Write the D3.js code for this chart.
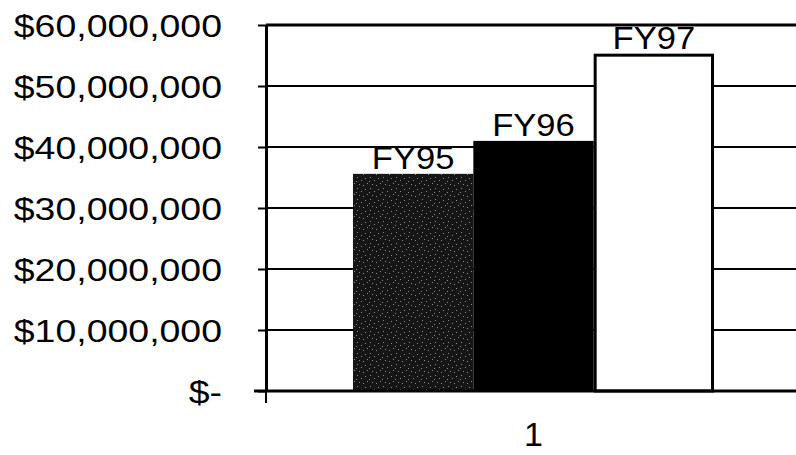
<!DOCTYPE html>
<html>
<head>
<meta charset="utf-8">
<script src="https://cdn.jsdelivr.net/npm/d3@7"></script>
<style>
  html, body { margin: 0; padding: 0; background: #fff; }
  svg { display: block; }
  text { font-family: "Liberation Sans", Arial, sans-serif; fill: #000; }
</style>
</head>
<body>
<svg id="chart" width="796" height="455"></svg>
<script>
// ---- data ----
const categories = ["1"];
const series = ["FY95", "FY96", "FY97"];
const values = [35600000, 41000000, 55300000];
const yTicks = [0, 10000000, 20000000, 30000000, 40000000, 50000000, 60000000];

// ---- layout ----
const W = 796, H = 455;
const margin = { left: 266, right: -5, top: 25, bottom: 64 };
const svg = d3.select("#chart");

const x = d3.scaleBand()
  .domain(categories)
  .range([margin.left, W - margin.right])
  .paddingInner(0)
  .paddingOuter(0.241);

const xs = d3.scaleBand()
  .domain(series)
  .range([0, x.bandwidth()])
  .padding(0);

const y = d3.scaleLinear()
  .domain([0, 60000000])
  .range([H - margin.bottom, margin.top]);

// pattern for FY95 (dark speckled fill)
const defs = svg.append("defs");
const pat = defs.append("pattern")
  .attr("id", "speckle")
  .attr("patternUnits", "userSpaceOnUse")
  .attr("width", 13).attr("height", 11);
pat.append("rect").attr("width", 13).attr("height", 11).attr("fill", "#161616");
[[1,2],[6,1],[10,4],[3,7],[8,8],[12,9],[5,5]].forEach(([px, py]) => {
  pat.append("rect").attr("x", px).attr("y", py).attr("width", 1).attr("height", 1).attr("fill", "#8a8a8a");
});

// gridlines
svg.append("g")
  .selectAll("line")
  .data(yTicks.filter(d => d > 0))
  .join("line")
  .attr("x1", margin.left).attr("x2", W)
  .attr("y1", d => y(d)).attr("y2", d => y(d))
  .attr("stroke", "#000")
  .attr("stroke-width", d => d === 60000000 ? 3 : 2);

// bars
const fills = { FY95: "url(#speckle)", FY96: "#000", FY97: "#fff" };
const g = svg.append("g");
g.selectAll("rect")
  .data(series.map((s, i) => ({ s, v: values[i] })))
  .join("rect")
  .attr("x", d => x(categories[0]) + xs(d.s) + (d.s === "FY97" ? 1.5 : 0))
  .attr("y", d => y(d.v) + (d.s === "FY97" ? 1.5 : 0))
  .attr("width", d => xs.bandwidth() - (d.s === "FY97" ? 3 : 0))
  .attr("height", d => y(0) - y(d.v) - (d.s === "FY97" ? 1.5 : 0))
  .attr("fill", d => fills[d.s])
  .attr("stroke", d => d.s === "FY97" ? "#000" : "none")
  .attr("stroke-width", 3);

// y axis
const fmt = v => v === 0 ? "$-" : "$" + d3.format(",")(v);
const yAxis = svg.append("g")
  .attr("transform", `translate(${margin.left},0)`)
  .call(d3.axisLeft(y).tickValues(yTicks).tickFormat(fmt).tickSize(8).tickPadding(36).tickSizeOuter(0));
yAxis.select(".domain").attr("stroke-width", 3).attr("stroke", "#000");
yAxis.selectAll(".tick line").attr("stroke-width", 2).attr("stroke", "#000");
yAxis.selectAll(".tick text")
  .attr("font-size", 32)
  .attr("font-family", "Liberation Sans, Arial, sans-serif")
  .attr("fill", "#000")
  .attr("dy", "0.35em")
  .each(function() {
    const l = this.getComputedTextLength();
    d3.select(this).attr("textLength", l * 1.17).attr("lengthAdjust", "spacingAndGlyphs");
  });

// x axis
const xAxis = svg.append("g")
  .attr("transform", `translate(0,${y(0)})`)
  .call(d3.axisBottom(x).tickSize(0).tickPadding(31).tickSizeOuter(0));
xAxis.select(".domain").attr("stroke-width", 3).attr("stroke", "#000")
  .attr("d", `M${margin.left - 12},0H${W}`);
xAxis.selectAll(".tick text")
  .attr("font-size", 34)
  .attr("font-family", "Liberation Sans, Arial, sans-serif")
  .attr("fill", "#000");
// separator tick below axis at plot left edge
xAxis.append("line")
  .attr("x1", margin.left).attr("x2", margin.left)
  .attr("y1", 0).attr("y2", 12)
  .attr("stroke", "#000").attr("stroke-width", 2);

// series labels above bars
svg.append("g")
  .selectAll("text")
  .data(series.map((s, i) => ({ s, v: values[i] })))
  .join("text")
  .attr("x", d => x(categories[0]) + xs(d.s) + xs.bandwidth() / 2)
  .attr("y", d => y(d.v) - 5)
  .attr("text-anchor", "middle")
  .attr("font-size", 32)
  .text(d => d.s)
  .each(function() {
    const l = this.getComputedTextLength();
    d3.select(this).attr("textLength", l * 1.08).attr("lengthAdjust", "spacingAndGlyphs");
  });
</script>
</body>
</html>
